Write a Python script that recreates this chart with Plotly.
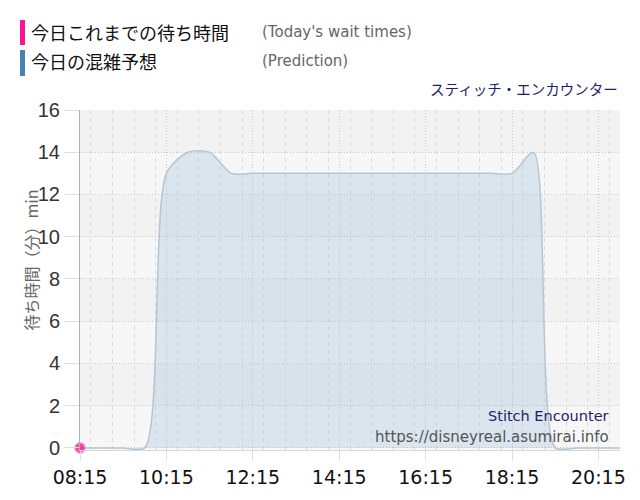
import plotly.graph_objects as go

# prediction for the day, every 30 minutes
times = ['08:15', '08:45', '09:15', '09:45', '10:15', '10:45', '11:15', '11:45',
         '12:15', '12:45', '13:15', '13:45', '14:15', '14:45', '15:15', '15:45',
         '16:15', '16:45', '17:15', '17:45', '18:15', '18:45', '19:15', '19:45',
         '20:15', '20:45']
prediction = [0, 0, 0, 0, 13, 14, 14, 13,
              13, 13, 13, 13, 13, 13, 13, 13,
              13, 13, 13, 13, 13, 14, 0, 0,
              0, 0]

# actual waits so far
actual_times = ['08:15']
actual_waits = [0]

day = '2024-01-01 '
x_pred = [day + t for t in times]
x_act = [day + t for t in actual_times]

fig = go.Figure()

fig.add_trace(go.Scatter(
    x=x_pred, y=prediction,
    mode='lines',
    line=dict(color='#b4c6d6', width=1.5, shape='spline', smoothing=0.75),
    fill='tozeroy',
    fillcolor='rgba(159,192,222,0.32)',
    hoverinfo='skip'))

fig.add_trace(go.Scatter(
    x=x_act, y=actual_waits,
    mode='markers',
    marker=dict(color='#ff1493', size=11, opacity=0.8,
                line=dict(color='#c8c8c8', width=1.5)),
    cliponaxis=False,
    hoverinfo='skip'))

# alternating background bands
shapes = []
for i in range(8):
    shapes.append(dict(
        type='rect', xref='paper', yref='y', layer='below',
        x0=0, x1=1, y0=2 * i if i else -0.1, y1=2 * i + 2,
        fillcolor='#f7f7f7' if i % 2 == 0 else '#f2f2f2',
        line=dict(width=0)))

# legend swatches
shapes.append(dict(type='rect', xref='paper', yref='paper',
                   x0=-0.1111, x1=-0.1019, y0=1.1912, y1=1.2647,
                   fillcolor='#ff1493', line=dict(width=0)))
shapes.append(dict(type='rect', xref='paper', yref='paper',
                   x0=-0.1111, x1=-0.1019, y0=1.1000, y1=1.1765,
                   fillcolor='#4682b4', line=dict(width=0)))

annotations = [
    dict(text='今日これまでの待ち時間', x=-0.0944, y=1.2294, xanchor='left',
         font=dict(family='Noto Sans CJK JP', size=18, color='#111')),
    dict(text="(Today's wait times)", x=0.3333, y=1.2294, xanchor='left',
         font=dict(family='DejaVu Sans', size=15, color='#666')),
    dict(text='今日の混雑予想', x=-0.0944, y=1.1441, xanchor='left',
         font=dict(family='Noto Sans CJK JP', size=18, color='#111')),
    dict(text='(Prediction)', x=0.3333, y=1.1441, xanchor='left',
         font=dict(family='DejaVu Sans', size=15, color='#666')),
    dict(text='スティッチ・エンカウンター', x=1.0, y=1.0618, xanchor='right',
         font=dict(family='Noto Sans CJK JP', size=14.5, color='#1e1e6e')),
    dict(text='待ち時間（分）min', x=-0.1167, y=0.56, textangle=-90,
         font=dict(family='Noto Sans CJK JP', size=16, color='#666')),
    dict(text='Stitch Encounter', x=0.9833, y=0.1, xanchor='right',
         font=dict(family='DejaVu Sans', size=14.5, color='#1e1e6e')),
    dict(text='https://disneyreal.asumirai.info', x=0.9833, y=0.0382, xanchor='right',
         font=dict(family='DejaVu Sans', size=15, color='#555')),
]
for a in annotations:
    a.update(xref='paper', yref='paper', yanchor='middle', showarrow=False)

# page body adds an 8px offset, so margins are shifted to compensate
fig.update_layout(
    width=640, height=500,
    margin=dict(l=72, r=28, t=102, b=58),
    paper_bgcolor='white',
    plot_bgcolor='#f2f2f2',
    showlegend=False,
    shapes=shapes,
    annotations=annotations,
    xaxis=dict(
        type='date',
        range=[day + '08:15', day + '20:45'],
        tick0=day + '08:15', dtick=7200000,
        tickformat='%H:%M',
        tickfont=dict(family='DejaVu Sans', size=19, color='#111'),
        showgrid=True, gridcolor='#c8c8c8', griddash='1px,2px',
        ticks='outside', ticklen=10, tickcolor='#e0e0e0',
        minor=dict(dtick=1800000, showgrid=True, gridcolor='#dcdcdc',
                   griddash='4px,4px'),
        showline=True, linecolor='#d8d8d8',
        zeroline=False, fixedrange=True),
    yaxis=dict(
        range=[-0.1, 16], tick0=0, dtick=2,
        tickfont=dict(family='Liberation Sans', size=20, color='#333'),
        showgrid=True, gridcolor='#c8c8c8', griddash='1px,2px',
        ticks='outside', ticklen=15, tickcolor='#e0e0e0',
        showline=True, linecolor='#b0b0b0',
        zeroline=False, fixedrange=True),
)

fig.write_html('out.html')
